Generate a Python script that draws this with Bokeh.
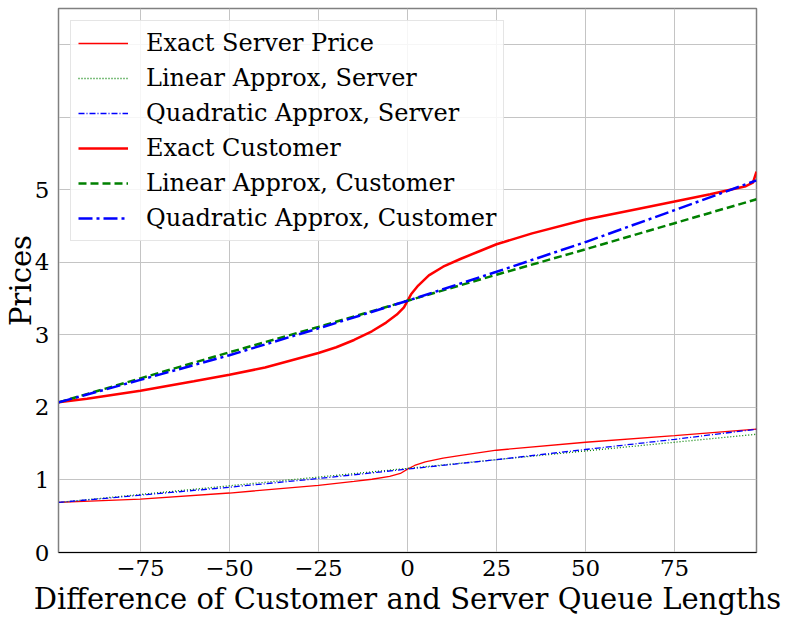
from bokeh.plotting import figure
from bokeh.models import FixedTicker, Legend, LegendItem, Range1d
from bokeh.embed import file_html
from bokeh.resources import INLINE

# ---- data ----
x_exact_cust = [-98, -90, -75, -60, -50, -40, -25, -20, -15, -10, -6, -3, -1, 0,
                1, 3, 6, 10, 15, 20, 25, 35, 50, 65, 75, 85, 95, 97, 98]
y_exact_cust = [2.07, 2.12, 2.23, 2.36, 2.45, 2.55, 2.75, 2.83, 2.93, 3.05, 3.17, 3.28, 3.38, 3.47,
                3.56, 3.68, 3.82, 3.94, 4.05, 4.15, 4.25, 4.40, 4.59, 4.74, 4.84, 4.94, 5.05, 5.10, 5.25]

x_exact_serv = [-98, -75, -50, -25, -15, -10, -5, -2, 0, 2, 5, 10, 15, 25, 50, 75, 98]
y_exact_serv = [0.69, 0.735, 0.82, 0.925, 0.98, 1.01, 1.05, 1.09, 1.15, 1.20, 1.25, 1.30, 1.34,
                1.41, 1.52, 1.61, 1.70]

x_approx = [-98, -75, -50, -25, 0, 25, 50, 75, 98]
y_lin_serv = [0.69, 0.80, 0.92, 1.04, 1.16, 1.28, 1.40, 1.52, 1.63]
y_quad_serv = [0.69, 0.79, 0.90, 1.02, 1.15, 1.28, 1.42, 1.56, 1.70]
y_lin_cust = [2.07, 2.40, 2.76, 3.11, 3.47, 3.83, 4.18, 4.54, 4.87]
y_quad_cust = [2.07, 2.38, 2.72, 3.09, 3.47, 3.87, 4.28, 4.72, 5.13]

x_ticks = [-75, -50, -25, 0, 25, 50, 75]
x_tick_labels = ["\u221275", "\u221250", "\u221225", "0", "25", "50", "75"]
y_ticks = [0, 1, 2, 3, 4, 5, 6, 7]
y_tick_labels = ["0", "1", "2", "3", "4", "5", "", ""]

labels = ["Exact Server Price", "Linear Approx, Server", "Quadratic Approx, Server",
          "Exact Customer", "Linear Approx, Customer", "Quadratic Approx, Customer"]

FONT = "DejaVu Serif"

p = figure(width=789, height=620, x_range=Range1d(-98, 98), y_range=Range1d(0, 7.5),
           output_backend="svg", toolbar_location=None,
           min_border_left=58, min_border_right=33, min_border_top=8, min_border_bottom=68)

r1 = p.line(x_exact_serv, y_exact_serv, color="#ff0000", line_width=1.3)
r2 = p.line(x_approx, y_lin_serv, color="#008000", line_width=1.3, line_dash="1 2")
r3 = p.line(x_approx, y_quad_serv, color="#0000ff", line_width=1.3, line_dash="6 2 1 2")
r4 = p.line(x_exact_cust, y_exact_cust, color="#ff0000", line_width=2.5)
r5 = p.line(x_approx, y_lin_cust, color="#008000", line_width=2.5, line_dash="8 4")
r6 = p.line(x_approx, y_quad_cust, color="#0000ff", line_width=2.5, line_dash="14 4 3 4")

p.xaxis.ticker = FixedTicker(ticks=x_ticks)
p.xaxis.major_label_overrides = dict(zip(x_ticks, x_tick_labels))
p.yaxis.ticker = FixedTicker(ticks=y_ticks)
p.yaxis.major_label_overrides = dict(zip(y_ticks, y_tick_labels))

for ax in (p.xaxis[0], p.yaxis[0]):
    ax.major_tick_out = 0
    ax.major_tick_in = 0
    ax.minor_tick_out = 0
    ax.minor_tick_in = 0
    ax.major_label_text_font = FONT
    ax.major_label_text_font_size = "23px"
    ax.major_label_text_color = "#000000"
    ax.axis_label_text_font = FONT
    ax.axis_label_text_font_size = "29px"
    ax.axis_label_text_font_style = "normal"
    ax.axis_label_text_color = "#000000"

p.xaxis.axis_label = "Difference of Customer and Server Queue Lengths"
p.yaxis.axis_label = "Prices"
p.xaxis.axis_line_color = "#000000"
p.yaxis.axis_line_color = "#808080"
p.xaxis.major_label_standoff = 7
p.yaxis.major_label_standoff = 9
p.xaxis.axis_label_standoff = 3
p.yaxis.axis_label_standoff = -6

p.outline_line_color = "#808080"
p.outline_line_width = 1.5
p.xgrid.grid_line_color = "#c4c4c4"
p.ygrid.grid_line_color = "#c4c4c4"
p.xgrid.grid_line_width = 1
p.ygrid.grid_line_width = 1

legend = Legend(items=[LegendItem(label=l, renderers=[r]) for l, r in
                       zip(labels, [r1, r2, r3, r4, r5, r6])],
                location="top_left", margin=12)
legend.label_text_font = FONT
legend.label_text_font_size = "24px"
legend.label_text_color = "#000000"
legend.glyph_width = 50
legend.glyph_height = 30
legend.label_height = 30
legend.spacing = 5
legend.padding = 7
legend.label_standoff = 18
legend.border_line_color = "#cccccc"
legend.border_line_width = 1
legend.background_fill_alpha = 0.85
p.add_layout(legend)

open("out.html", "w").write(file_html(p, INLINE))
